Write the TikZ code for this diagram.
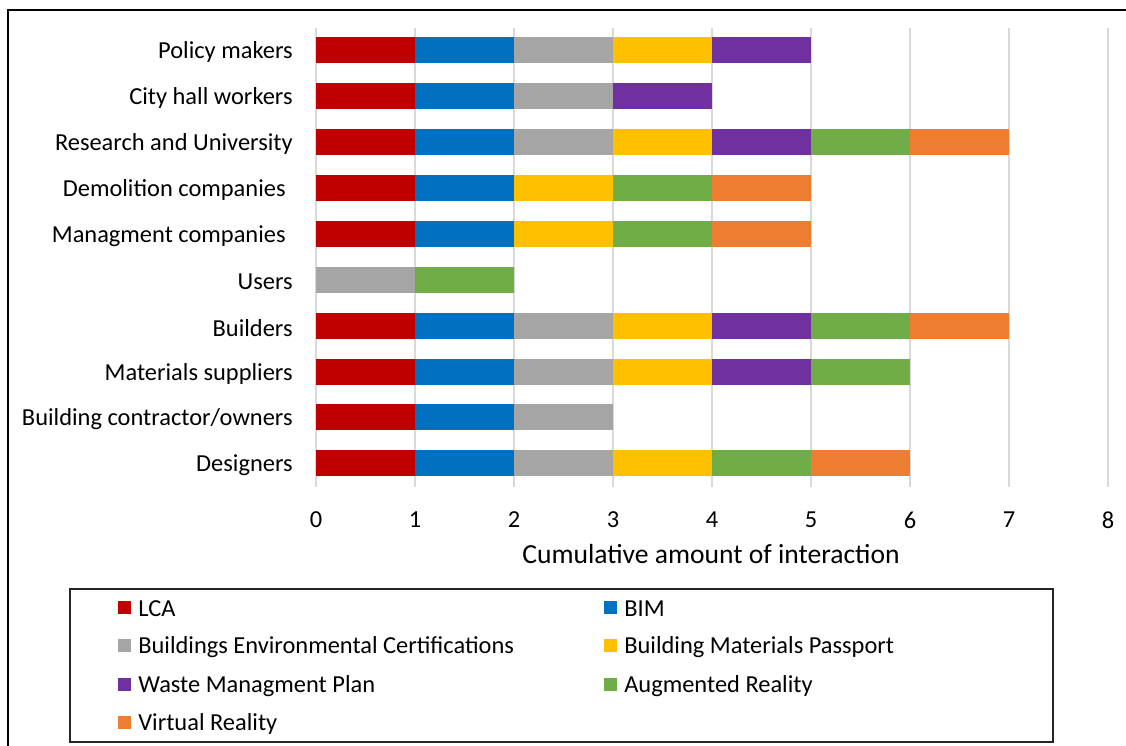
\documentclass[tikz,border=0pt]{standalone}
\usepackage{fontspec}
\setmainfont{Carlito}
\usepackage{tikz}
\usetikzlibrary{calc}
\definecolor{lca}{HTML}{C00000}
\definecolor{bim}{HTML}{0070C0}
\definecolor{bec}{HTML}{A5A5A5}
\definecolor{bmp}{HTML}{FFC000}
\definecolor{wmp}{HTML}{7030A0}
\definecolor{aug}{HTML}{70AD47}
\definecolor{vr}{HTML}{ED7D31}
\definecolor{gridgray}{HTML}{D9D9D9}
\begin{document}
\begin{tikzpicture}[x=0.02cm,y=-0.02cm,
		catlabel/.style={anchor=east,inner sep=0pt,font=\fontsize{13.9}{16}\selectfont},
		ticklabel/.style={inner sep=0pt,font=\fontsize{13.9}{16}\selectfont},
		legtext/.style={anchor=west,inner sep=0pt,font=\fontsize{13.9}{16}\selectfont}
	]
		\useasboundingbox (0,0) rectangle (1126,746);
		% Outer frame (open to the right and bottom)
		\draw[line width=1.2pt] (8,746) -- (8,10) -- (1126,10);
		
		% Grid lines and tick labels
		\foreach \k in {0,...,8}{
			\draw[gridgray,line width=0.6pt] ({316+99*\k},28) -- ({316+99*\k},487);
			\node[ticklabel] (tick\k) at ({316+99*\k},520) {\k};
		}
		\node[ticklabel,font=\fontsize{15.7}{18}\selectfont] (xtitle) at (711,554) {Cumulative amount of interaction};
		
		% Stacked bars, one segment per tool
		\foreach \lab/\y/\segs [count=\r] in {
			Policy makers/50/{lca,bim,bec,bmp,wmp},
			City hall workers/96/{lca,bim,bec,wmp},
			Research and University/142/{lca,bim,bec,bmp,wmp,aug,vr},
			Demolition companies\kern4pt/188/{lca,bim,bmp,aug,vr},
			Managment companies\kern4pt/234/{lca,bim,bmp,aug,vr},
			Users/280/{bec,aug},
			Builders/326/{lca,bim,bec,bmp,wmp,aug,vr},
			Materials suppliers/372/{lca,bim,bec,bmp,wmp,aug},
			{Building contractor/owners}/417/{lca,bim,bec},
			Designers/463/{lca,bim,bec,bmp,aug,vr}}{
			\node[catlabel] (cat\r) at (293,\y+2) {\lab};
			\foreach \c [count=\i from 0] in \segs
				\fill[\c] ({316+99*\i},\y-13) rectangle ({316+99*(\i+1)},\y+13);
		}
		
		% Legend
		\draw[line width=0.9pt,black!85] (70,589) rectangle (1053,742);
		\foreach \c/\txt/\lx/\ly in {
			lca/LCA/118/607, bim/BIM/604/607,
			bec/Buildings Environmental Certifications/118/645, bmp/Building Materials Passport/604/645,
			wmp/Waste Managment Plan/118/684, aug/Augmented Reality/604/684,
			vr/Virtual Reality/118/722}{
			\fill[\c] (\lx,\ly-6.5) rectangle (\lx+13,\ly+6.5);
			\node[legtext] (leg-\c) at (\lx+20,\ly+2) {\txt};
		}
\end{tikzpicture}
\end{document}
